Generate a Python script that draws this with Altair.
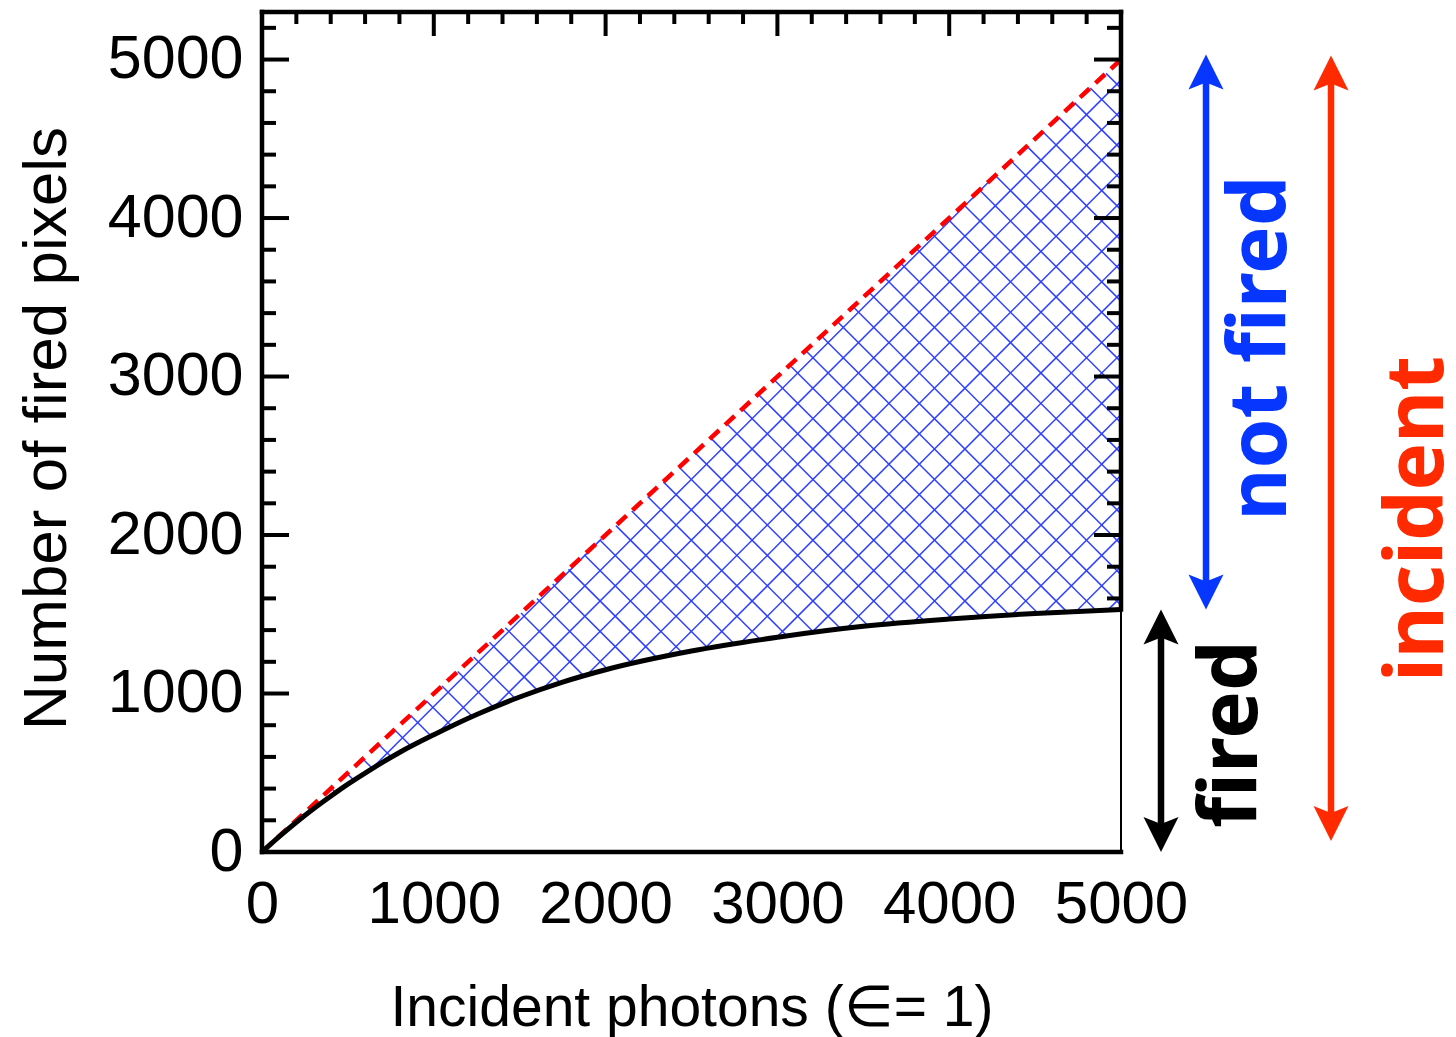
import altair as alt
import numpy as np
import pandas as pd

# Response curve: number of fired pixels against incident photons
incident = [0, 100, 200, 300, 400, 500, 600, 800, 1000, 1250, 1500, 1750,
            2000, 2500, 3000, 3500, 4000, 4500, 5000]
fired = [0, 97, 188, 273, 352, 428, 498, 628, 740, 868, 978, 1072,
         1150, 1268, 1355, 1424, 1470, 1505, 1530]

# Ideal (linear) response, end points
ideal_x = [0, 5000]
ideal_y = [0, 5000]

# Labelled tick values
x_labels = [0, 1000, 2000, 3000, 4000, 5000]
y_labels = [0, 1000, 2000, 3000, 4000, 5000]

X_MAX, Y_MAX = 5000, 5300
W, H = 859, 840

BLUE = "#0636ff"
RED = "#ff2a00"
HATCH = "#2f40ff"

x_scale = alt.Scale(domain=[0, X_MAX], nice=False, zero=False)
y_scale = alt.Scale(domain=[0, Y_MAX], nice=False, zero=False)
x_title = "Incident photons (\u2208= 1)"
y_title = "Number of fired pixels"

x_axis = alt.Axis(
    values=x_labels, format="d", domain=False, ticks=False, tickSize=0, grid=False,
    labelFont="Liberation Sans", labelFontSize=60, labelColor="black",
    labelPadding=70, labelBaseline="alphabetic", labelAlign="center",
    labelFlush=False, labelOverlap=False,
    titleFont="Liberation Sans", titleFontSize=57, titleFontWeight="normal",
    titleColor="black", titleX=W / 2, titleY=173, titleAlign="center",
    titleBaseline="alphabetic",
)
y_axis = alt.Axis(
    values=y_labels, format="d", domain=False, ticks=False, tickSize=0, grid=False,
    labelFont="Liberation Sans", labelFontSize=61, labelColor="black",
    labelPadding=19, labelBaseline="middle", labelAlign="right",
    labelFlush=False, labelOverlap=False,
    titleFont="Liberation Sans", titleFontSize=62, titleFontWeight="normal",
    titleColor="black", titleAngle=270, titleX=-197, titleY=416,
    titleAlign="center", titleBaseline="alphabetic",
)


def X(field):
    return alt.X(f"{field}:Q", scale=x_scale, axis=x_axis, title=x_title)


def Y(field):
    return alt.Y(f"{field}:Q", scale=y_scale, axis=y_axis, title=y_title)


# ---- cross-hatching between the ideal line and the response curve ----
px = np.linspace(0, W, 8001)
xd = px / W * X_MAX
lower = np.interp(xd, incident, fired) * H / Y_MAX
upper = np.interp(xd, ideal_x, ideal_y) * H / Y_MAX
step = 30.4
segs = []
for sign, base in ((1, -330.3), (-1, 984.3)):
    for k in range(-80, 120):
        line = sign * px + base + k * step
        m = (line >= lower) & (line <= upper)
        idx = np.nonzero(m)[0]
        if len(idx) < 2:
            continue
        i0, i1 = idx[0], idx[-1]
        segs.append({
            "x": xd[i0], "y": line[i0] / H * Y_MAX,
            "x2": xd[i1], "y2": line[i1] / H * Y_MAX,
        })
hatch_df = pd.DataFrame(segs)

hatch = alt.Chart(hatch_df).mark_rule(color=HATCH, strokeWidth=1.5, opacity=1).encode(
    x=X("x"), y=Y("y"), x2="x2:Q", y2="y2:Q"
)

curve_df = pd.DataFrame({"x": incident, "y": fired})
ideal_df = pd.DataFrame({"x": ideal_x, "y": ideal_y})

ideal = alt.Chart(ideal_df).mark_line(
    color="#ff0000", strokeWidth=4.5, strokeDash=[13, 8]
).encode(x=X("x"), y=Y("y"))

curve = alt.Chart(curve_df).mark_line(
    color="black", strokeWidth=5, interpolate="monotone"
).encode(x=X("x"), y=Y("y"))

# ---- frame ----
frame_thick = pd.DataFrame({
    "x": [0, 0, 0, X_MAX],
    "y": [Y_MAX, 0, 0, fired[-1]],
    "x2": [X_MAX, 0, X_MAX, X_MAX],
    "y2": [Y_MAX, Y_MAX, 0, Y_MAX],
})
frame_thin = pd.DataFrame({"x": [X_MAX], "y": [0], "x2": [X_MAX], "y2": [fired[-1]]})

frame = alt.Chart(frame_thick).mark_rule(color="black", strokeWidth=4.5, strokeCap="square").encode(
    x=X("x"), y=Y("y"), x2="x2:Q", y2="y2:Q"
)
frame2 = alt.Chart(frame_thin).mark_rule(color="black", strokeWidth=2).encode(
    x=X("x"), y=Y("y"), x2="x2:Q", y2="y2:Q"
)

# ---- inward ticks ----
left_minor = pd.DataFrame({"y": [v for v in range(200, 5300, 200) if v % 1000]})
left_major = pd.DataFrame({"y": [v for v in range(1000, 5300, 1000)]})
top_minor = pd.DataFrame({"x": [v for v in range(200, 5000, 200) if v % 1000]})
top_major = pd.DataFrame({"x": [v for v in range(1000, 5000, 1000)]})
right_minor = pd.DataFrame({"y": [v for v in range(1600, 5300, 200) if v % 1000]})
right_major = pd.DataFrame({"y": [v for v in range(2000, 5300, 1000)]})

TW = 4


def hticks(df, x0, x1):
    return alt.Chart(df).mark_rule(color="black", strokeWidth=TW).encode(
        y=Y("y"), x=alt.value(x0), x2=alt.value(x1)
    )


def vticks(df, length):
    return alt.Chart(df).mark_rule(color="black", strokeWidth=TW).encode(
        x=X("x"), y=alt.value(0), y2=alt.value(length)
    )


ticks = [
    hticks(left_minor, 0, 14), hticks(left_major, 0, 27),
    hticks(right_minor, W, W - 14), hticks(right_major, W, W - 27),
    vticks(top_minor, 12), vticks(top_major, 24),
]

# ---- arrows on the right ----
UP = "M0,-1 L1,1 L0,0.6 L-1,1 Z"
DOWN = "M0,1 L1,-1 L0,-0.6 L-1,-1 Z"
HEAD = 35


def arrow(lo, hi, xpix, color, width=6.5, lo_gap=0, hi_gap=0):
    df = pd.DataFrame({"lo": [lo], "hi": [hi]})
    base = alt.Chart(df)
    shaft = base.mark_rule(color=color, strokeWidth=width,
                           yOffset=-20 - lo_gap, y2Offset=20 - hi_gap).encode(
        x=alt.value(xpix), y=Y("lo"), y2="hi:Q"
    )
    top = base.mark_point(shape=UP, size=HEAD * HEAD, filled=True, color=color,
                          opacity=1, strokeWidth=0, yOffset=HEAD / 2 - hi_gap).encode(
        x=alt.value(xpix), y=Y("hi")
    )
    bottom = base.mark_point(shape=DOWN, size=HEAD * HEAD, filled=True, color=color,
                             opacity=1, strokeWidth=0, yOffset=-HEAD / 2 - lo_gap).encode(
        x=alt.value(xpix), y=Y("lo")
    )
    return [shaft, top, bottom]


arrows = (
    arrow(fired[-1], incident[-1], 944, BLUE, hi_gap=5)
    + arrow(0, fired[-1], 899, "black")
    + arrow(0, incident[-1], 1069, RED, lo_gap=11, hi_gap=4)
)


def label(text, xpix, ypix, color):
    return alt.Chart(pd.DataFrame({"label": [text]})).mark_text(
        angle=270, fontSize=80, font="Noto Sans", fontWeight="bold",
        color=color, align="center", baseline="alphabetic"
    ).encode(x=alt.value(xpix), y=alt.value(ypix), text="label:N")


labels = [
    label("not fired", 1024, 336, BLUE),
    label("fired", 995, 722, "black"),
    label("incident", 1181, 507, RED),
]

chart = alt.layer(
    hatch, ideal, curve, frame, frame2, *ticks, *arrows, *labels
).properties(
    width=W, height=H,
    padding={"left": 262, "top": 12, "right": 1456 - 262 - W, "bottom": 1037 - 12 - H},
    autosize="none",
).configure_view(stroke=None)

chart.save("out.html", embed_options={"renderer": "svg", "actions": False})
